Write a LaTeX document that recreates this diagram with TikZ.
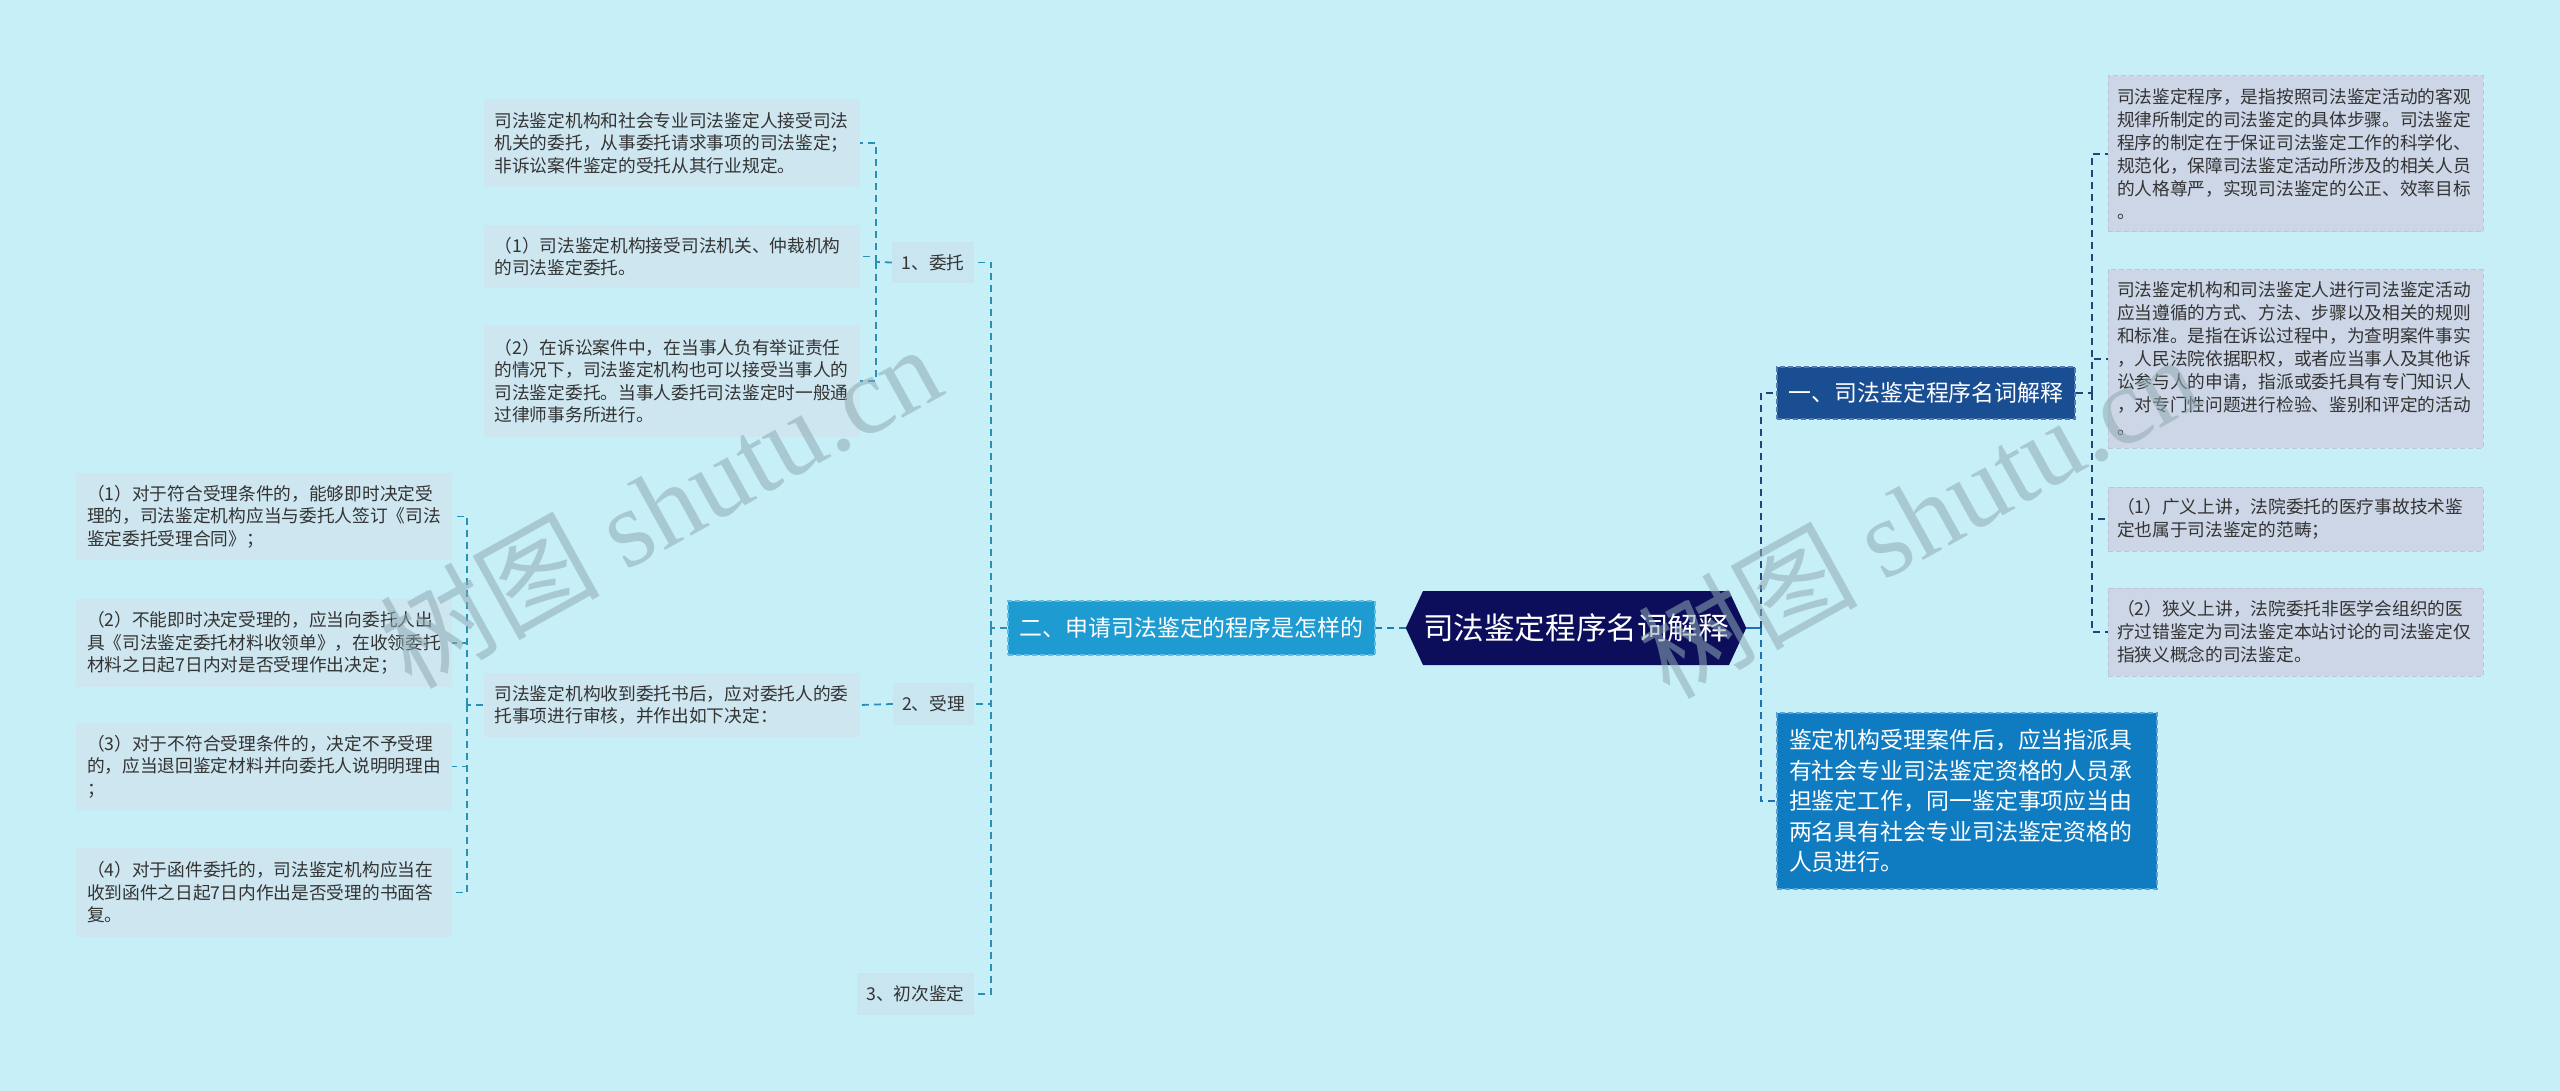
\documentclass[tikz,border=0pt]{standalone}
\usepackage{fontspec}
\setmainfont{Noto Sans CJK SC}
\newfontfamily\wmserif{Liberation Serif}
\usetikzlibrary{shapes.symbols}
\definecolor{bg}{HTML}{C7EFF8}
\definecolor{leafLc}{HTML}{CDE6EF}
\definecolor{labc}{HTML}{C9E6F0}
\definecolor{leafRc}{HTML}{CCD6E6}
\definecolor{leafRb}{HTML}{BAC6DA}
\definecolor{txt}{HTML}{333333}
\definecolor{rootc}{HTML}{0C0E5C}
\definecolor{erc}{HTML}{1E9BD0}
\definecolor{erb}{HTML}{63BCE2}
\definecolor{yic}{HTML}{1A4E93}
\definecolor{yib}{HTML}{5478AE}
\definecolor{btc}{HTML}{0F7BC0}
\definecolor{btb}{HTML}{5AA2D6}
\definecolor{cL}{HTML}{2A90B4}
\definecolor{cM}{HTML}{1C7EB2}
\definecolor{cN}{HTML}{22457E}
\definecolor{cB}{HTML}{1E72B2}
\definecolor{wmc}{HTML}{8FAAB2}
\tikzset{
  x=1pt, y=-1pt,
  fL/.style={font=\fontsize{17.7}{22.5}\selectfont},
  leafL/.style={fill=leafLc, text=txt, fL, align=left, text width=354pt, inner xsep=11pt, inner ysep=0pt},
  leafR/.style={fill=leafRc, draw=leafRb, line width=1pt, dash pattern=on 5pt off 3pt, text=txt,
     font=\fontsize{17.7}{23}\selectfont, align=left, text width=357pt, inner xsep=9pt, inner ysep=0pt},
  labelbox/.style={fill=labc, text=txt, fL, inner sep=0pt},
  connL/.style={draw=cL, line width=1.8pt, dash pattern=on 7pt off 5pt},
  connN/.style={draw=cN, line width=2.2pt, dash pattern=on 7pt off 5pt},
  connB/.style={draw=cB, line width=2.2pt, dash pattern=on 7pt off 5pt},
  wm/.style={text=wmc, opacity=0.55, rotate=29, inner sep=0pt}
}
\begin{document}
\begin{tikzpicture}
\useasboundingbox[fill=bg] (0,0) rectangle (2560,1091);

% root
\node[signal, signal to=west and east, signal pointer angle=130, fill=rootc, text=white,
  font=\fontsize{30.6}{34}\selectfont, minimum width=338pt, minimum height=74pt, inner sep=0pt] (root) at (1576,628) {司法鉴定程序名词解释};

% level 1
\node[fill=erc, draw=erb, line width=1.2pt, dash pattern=on 5pt off 3pt, text=white,
  font=\fontsize{22.9}{26}\selectfont, minimum width=367pt, minimum height=54pt, inner sep=0pt] (er) at (1191.5,628) {二、申请司法鉴定的程序是怎样的};
\node[fill=yic, draw=yib, line width=1.2pt, dash pattern=on 5pt off 3pt, text=white,
  font=\fontsize{22.9}{26}\selectfont, minimum width=298pt, minimum height=52pt, inner sep=0pt] (yi) at (1926,393) {一、司法鉴定程序名词解释};
\node[fill=btc, draw=btb, line width=1.2pt, dash pattern=on 5pt off 3pt, text=white,
  font=\fontsize{22.9}{30.5}\selectfont, align=left, text width=356pt, inner xsep=12pt, inner ysep=0pt,
  minimum height=176pt] (bt) at (1967,801) {鉴定机构受理案件后，应当指派具\\有社会专业司法鉴定资格的人员承\\担鉴定工作，同一鉴定事项应当由\\两名具有社会专业司法鉴定资格的\\人员进行。};

% right leaves
\node[leafR, minimum height=156pt] (r1) at (2295.5,154) {司法鉴定程序，是指按照司法鉴定活动的客观\\规律所制定的司法鉴定的具体步骤。司法鉴定\\程序的制定在于保证司法鉴定工作的科学化、\\规范化，保障司法鉴定活动所涉及的相关人员\\的人格尊严，实现司法鉴定的公正、效率目标\\。};
\node[leafR, minimum height=178pt] (r2) at (2295.5,359) {司法鉴定机构和司法鉴定人进行司法鉴定活动\\应当遵循的方式、方法、步骤以及相关的规则\\和标准。是指在诉讼过程中，为查明案件事实\\，人民法院依据职权，或者应当事人及其他诉\\讼参与人的申请，指派或委托具有专门知识人\\，对专门性问题进行检验、鉴别和评定的活动\\。};
\node[leafR, minimum height=64pt] (r3) at (2295.5,519) {（1）广义上讲，法院委托的医疗事故技术鉴\\定也属于司法鉴定的范畴；};
\node[leafR, minimum height=88pt] (r4) at (2295.5,632) {（2）狭义上讲，法院委托非医学会组织的医\\疗过错鉴定为司法鉴定本站讨论的司法鉴定仅\\指狭义概念的司法鉴定。};

% left labels
\node[labelbox, minimum width=82pt, minimum height=41pt] (wt) at (933,262.5) {1、委托};
\node[labelbox, minimum width=81pt, minimum height=42pt] (sl) at (933.5,704) {2、受理};
\node[labelbox, minimum width=117pt, minimum height=42pt] (cc) at (915.5,994) {3、初次鉴定};

% left leaves
\node[leafL, minimum height=88pt] (l1) at (671.5,143) {司法鉴定机构和社会专业司法鉴定人接受司法\\机关的委托，从事委托请求事项的司法鉴定；\\非诉讼案件鉴定的受托从其行业规定。};
\node[leafL, minimum height=63pt] (l2) at (671.5,256.5) {（1）司法鉴定机构接受司法机关、仲裁机构\\的司法鉴定委托。};
\node[leafL, minimum height=112pt] (l3) at (671.5,381) {（2）在诉讼案件中，在当事人负有举证责任\\的情况下，司法鉴定机构也可以接受当事人的\\司法鉴定委托。当事人委托司法鉴定时一般通\\过律师事务所进行。};
\node[leafL, minimum height=64pt] (m) at (671.5,705) {司法鉴定机构收到委托书后，应对委托人的委\\托事项进行审核，并作出如下决定：};

\node[leafL, minimum height=87pt] (f1) at (264,516.5) {（1）对于符合受理条件的，能够即时决定受\\理的，司法鉴定机构应当与委托人签订《司法\\鉴定委托受理合同》；};
\node[leafL, minimum height=88pt] (f2) at (264,643) {（2）不能即时决定受理的，应当向委托人出\\具《司法鉴定委托材料收领单》，在收领委托\\材料之日起7日内对是否受理作出决定；};
\node[leafL, minimum height=87pt] (f3) at (264,766.5) {（3）对于不符合受理条件的，决定不予受理\\的，应当退回鉴定材料并向委托人说明明理由\\；};
\node[leafL, minimum height=89pt] (f4) at (264,892.5) {（4）对于函件委托的，司法鉴定机构应当在\\收到函件之日起7日内作出是否受理的书面答\\复。};

% junctions
\coordinate (jR) at (1761,628);
\coordinate (jY) at (2092,393);
\coordinate (jL) at (991,628);
\coordinate (jW) at (876,262);
\coordinate (jM) at (467,705);

% connectors
\draw[draw=cM, line width=2pt, dash pattern=on 7pt off 5pt] (root.west) -- (er.east);
\draw[draw=cB, line width=2.5pt] (root.east) -- (jR);
\draw[connN] (jR) |- (yi.west);
\draw[connB] (jR) |- (bt.west);
\draw[connN] (yi.east) -- (jY);
\draw[connN] (jY) |- (r1.west);
\draw[connN] (jY) |- (r2.west);
\draw[connN] (jY) |- (r3.west);
\draw[connN] (jY) |- (r4.west);

\draw[connL] (er.west) -- (jL);
\draw[connL] (jL) |- (wt.east);
\draw[connL] (jL) |- (sl.east);
\draw[connL] (jL) |- (cc.east);
\draw[connL] (wt.west) -- (jW);
\draw[connL] (jW) |- (l1.east);
\draw[connL] (jW) |- (l2.east);
\draw[connL] (jW) |- (l3.east);
\draw[connL] (sl.west) -- (m.east);
\draw[connL] (m.west) -- (jM);
\draw[connL] (jM) |- (f1.east);
\draw[connL] (jM) |- (f2.east);
\draw[connL] (jM) |- (f3.east);
\draw[connL] (jM) |- (f4.east);

% watermarks
\node[wm, font=\fontsize{110}{120}\selectfont] (wm1) at (660,505) {树图 {\wmserif shutu.cn}};
\node[wm, font=\fontsize{110}{120}\selectfont] (wm2) at (1918,515) {树图 {\wmserif shutu.cn}};
\end{tikzpicture}
\end{document}
